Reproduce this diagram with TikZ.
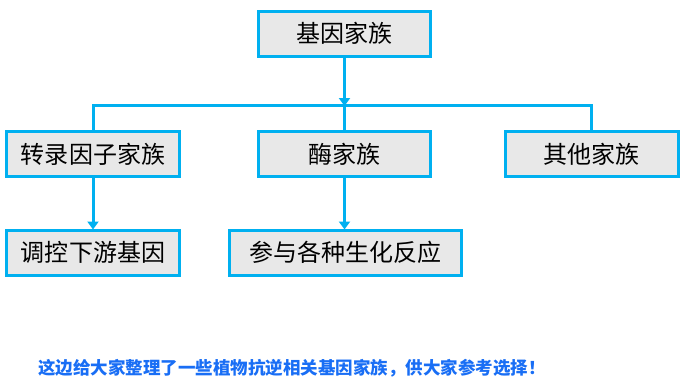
\documentclass[tikz,border=0pt]{standalone}
\usepackage{fontspec}
\newfontfamily\cjk{Noto Sans CJK SC}
\usetikzlibrary{arrows.meta}
\definecolor{boxline}{RGB}{0,176,240}
\definecolor{boxfill}{RGB}{232,232,232}
\definecolor{notecol}{RGB}{25,110,245}
\tikzset{
    famblock/.style={draw=boxline, fill=boxfill, line width=3bp, inner sep=0pt,
        minimum height=45bp, font=\cjk\fontsize{24bp}{28bp}\selectfont},
    link/.style={draw=boxline, line width=3bp},
    arrowlink/.style={link, -{Triangle[width=11bp,length=8bp]}, shorten >=-1bp}
}
\begin{document}
\begin{tikzpicture}[x=1bp, y=-1bp]
    \useasboundingbox (0,0) rectangle (687,391);

    % top level
    \node[famblock, minimum width=172bp] (root) at (344.5,33.5) {基因家族};

    % second level
    \node[famblock, minimum width=173bp] (tf) at (93,154) {转录因子家族};
    \node[famblock, minimum width=172bp] (enz) at (344.5,154) {酶家族};
    \node[famblock, minimum width=173bp] (other) at (591.5,154) {其他家族};

    % third level
    \node[famblock, minimum width=173bp] (reg) at (93,252.5) {调控下游基因};
    \node[famblock, minimum width=232bp] (react) at (345.5,252.5) {参与各种生化反应};

    % bus line
    \coordinate (busL) at (93,105);
    \coordinate (busR) at (591.5,105);
    \draw[link] (tf.north) -- (busL) -- (busR) -- (other.north);
    \draw[link] (enz.north) -- (enz.north |- busL);
    \draw[arrowlink] (root.south) -- (root.south |- busL);

    % lower arrows
    \draw[arrowlink] (tf.south) -- (tf.south |- reg.north);
    \draw[arrowlink] (enz.south) -- (enz.south |- react.north);

    % note
    \node[anchor=west, inner sep=0pt, text=notecol, font=\cjk\bfseries\fontsize{17.5bp}{21bp}\selectfont]
        (note) at (38,368) {这边给大家整理了一些植物抗逆相关基因家族，供大家参考选择！};
\end{tikzpicture}
\end{document}
